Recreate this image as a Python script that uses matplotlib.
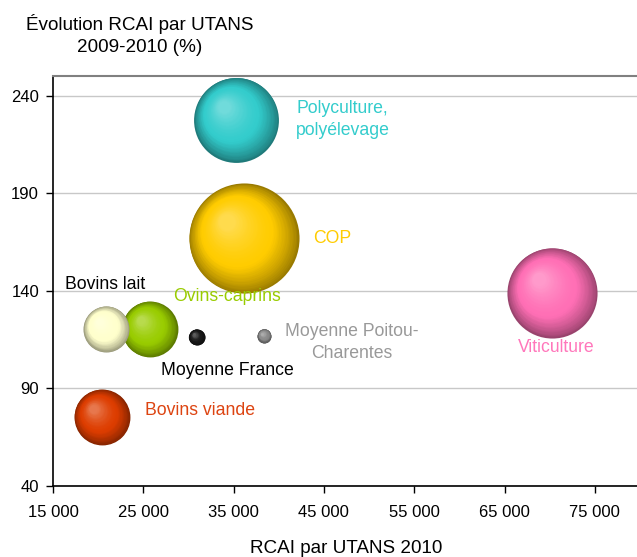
import numpy as np
import matplotlib
matplotlib.use("Agg")
import matplotlib.pyplot as plt
import matplotlib.colors as mcolors
from matplotlib import transforms

plt.rcParams['font.family'] = ['Liberation Sans', 'DejaVu Sans']

# données (ordre = ordre de tracé)
noms = ['Polyculture,\npolyélevage', 'COP', 'Viticulture', 'Ovins-caprins',
        'Bovins lait', 'Bovins viande', 'Moyenne France', 'Moyenne Poitou-\nCharentes']
rcai = [35300, 36100, 70300, 25700, 20900, 20400, 30900, 38400]
evolution = [227.7, 167.0, 139.0, 120.5, 120.5, 75.4, 116.4, 117.0]
poids = [18.0, 30.3, 20.3, 7.8, 5.3, 7.8, 0.64, 0.49]
couleurs = ['#33CCCC', '#FFCC00', '#FF6FB5', '#99CC00', '#FFFFCC', '#DD3D00', '#1A1A1A', '#8A8A8A']
couleurs_txt = ['#33CCCC', '#FFCC00', '#FF77BB', '#99CC00', '#000000', '#DD4411', '#000000', '#999999']
# décalage des étiquettes (pixels) et alignement
decal = [(60, 0), (70, 0), (4, -55), (77, 32), (-41, 44), (43, 6), (31, -34), (87, -7)]
align = ['left', 'left', 'center', 'center', 'left', 'left', 'center', 'center']

fig = plt.figure(figsize=(6.37, 5.57), dpi=100)
ax = fig.add_axes([53 / 637, 71 / 557, 587 / 637, 410 / 557])


def sphere(x, y, r_pt, color, z):
    base = np.array(mcolors.to_rgb(color))
    dark = base * 0.6
    light = base + (1 - base) * 0.3
    n = 40
    for k in range(n):
        t = k / (n - 1)
        rk = r_pt * (1 - 0.85 * t)
        if t < 0.4:
            c = dark + (base - dark) * (t / 0.4) ** 0.8
        else:
            c = base + (light - base) * ((t - 0.4) / 0.6) ** 1.5
        off = r_pt * 0.3 * t
        tr = transforms.offset_copy(ax.transData, fig=fig, x=-off, y=off, units='points')
        ax.scatter([x], [y], s=(2 * rk) ** 2, color=np.clip(c, 0, 1),
                   transform=tr, linewidths=0, zorder=z)


for i in range(len(noms)):
    r_px = 10 * np.sqrt(poids[i])
    sphere(rcai[i], evolution[i], r_px * 0.72, couleurs[i], 3 + i * 0.01)
    ax.annotate(noms[i], xy=(rcai[i], evolution[i]), xytext=decal[i],
                textcoords='offset pixels', ha=align[i], va='center',
                multialignment='center' if align[i] == 'center' else 'left',
                color=couleurs_txt[i], fontsize=12.7, zorder=10, linespacing=1.4)

ax.set_xlim(15000, 80000)
ax.set_ylim(40, 250)
ax.set_xticks(np.arange(15000, 80000, 10000))
ax.set_xticklabels([f"{v:,}".replace(',', ' ') for v in range(15000, 80000, 10000)])
ax.set_yticks([40, 90, 140, 190, 240])
ax.tick_params(labelsize=12, direction='out', length=5, width=1, colors='black', pad=5)
ax.tick_params(axis='x', pad=9)
ax.grid(axis='y', color='#C8C8C8', lw=1)
ax.set_axisbelow(True)

ax.spines['top'].set_color('#808080')
ax.spines['top'].set_linewidth(1.5)
ax.spines['right'].set_visible(False)
ax.spines['left'].set_linewidth(1.2)
ax.spines['bottom'].set_linewidth(1.2)

fig.text(140 / 637, 1 - 35 / 557, 'Évolution RCAI par UTANS\n2009-2010 (%)',
         ha='center', va='center', fontsize=13.6, linespacing=1.4)
ax.set_xlabel('RCAI par UTANS 2010', fontsize=13.6, labelpad=14)

fig.savefig('out.png', dpi=100)
